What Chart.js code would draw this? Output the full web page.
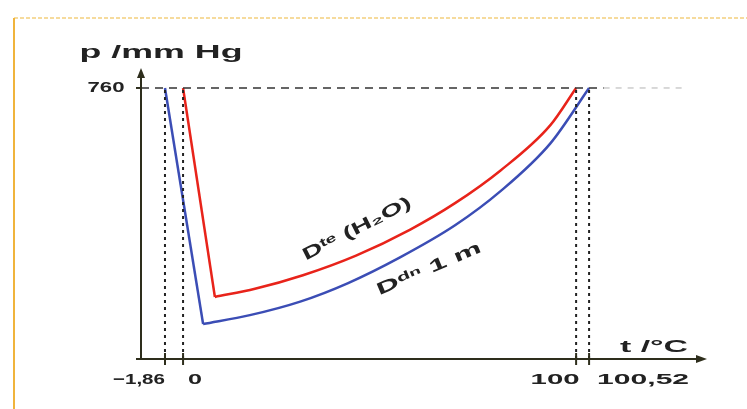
<!DOCTYPE html>
<html lang="en">
<head>
    <meta charset="UTF-8">
    <title>p - t diagram</title>
    <script src="https://cdn.jsdelivr.net/npm/chart.js"></script>
    <style>
        body {
            margin: 0;
            padding: 0;
            background: #fff;
        }
        #wrap {
            width: 747px;
            height: 409px;
        }
    </style>
</head>
<body>
    <div id="wrap"><canvas id="pt" width="747" height="409"></canvas></div>

    <script>
        // schematic temperature positions (axis is not to scale) and tick labels
        const xTickVals = [-4.6, 0, 100, 103.3];
        const xTickLabels = ['\u22121,86', '0', '100', '100,52'];
        const yTickVals = [760];
        const yTickLabels = ['760'];

        // pure water (red)
        const waterSolidT = [0, 8.1];
        const waterSolidP = [760, 174];
        const waterLiquidT = [8.1, 18.3, 30.5, 44, 57.8, 69.2, 80.7, 93.4, 100];
        const waterLiquidP = [174, 197, 235, 290, 363, 437, 528, 655, 760];

        // 1 m solution (blue)
        const solnSolidT = [-4.6, 5.1];
        const solnSolidP = [760, 98];
        const solnLiquidT = [5.1, 17, 29.8, 42, 55.2, 69.2, 80.7, 93.4, 103.3];
        const solnLiquidP = [98, 123, 161, 213, 285, 375, 470, 604, 760];

        const refLineT = [-10.7, 107];
        const refFaintT = [107, 128];

        function pts(xs, ys) {
            return xs.map((x, i) => ({ x: x, y: ys[i] }));
        }

        // draw text squeezed/stretched to a given width
        function fitText(ctx, text, cx, cy, w, size, angle) {
            ctx.save();
            ctx.font = 'bold ' + size + 'px "Liberation Sans", Arial, sans-serif';
            ctx.fillStyle = '#222';
            ctx.textAlign = 'center';
            ctx.textBaseline = 'middle';
            let m = ctx.measureText(text).width;
            ctx.translate(cx, cy);
            if (angle) ctx.rotate(angle * Math.PI / 180);
            ctx.scale(w / m, 1);
            ctx.fillText(text, 0, 0);
            ctx.restore();
        }

        const axesPlugin = {
            id: 'axesPlugin',
            beforeDraw(chart) {
                const ctx = chart.ctx;
                ctx.save();
                // scanned page frame
                ctx.strokeStyle = '#f3cf7e';
                ctx.lineWidth = 1.5;
                ctx.setLineDash([4, 2]);
                ctx.beginPath();
                ctx.moveTo(14, 18);
                ctx.lineTo(747, 18);
                ctx.stroke();
                ctx.setLineDash([]);
                ctx.strokeStyle = '#f0b43c';
                ctx.lineWidth = 2;
                ctx.beginPath();
                ctx.moveTo(14, 18);
                ctx.lineTo(14, 409);
                ctx.stroke();
                ctx.restore();
            },
            afterDraw(chart) {
                const ctx = chart.ctx;
                const a = chart.chartArea;
                const xs = chart.scales.x, ys = chart.scales.y;
                ctx.save();
                ctx.strokeStyle = '#2e2e1c';
                ctx.fillStyle = '#2e2e1c';
                ctx.lineWidth = 2;
                // y axis with arrow
                ctx.beginPath();
                ctx.moveTo(a.left, a.bottom);
                ctx.lineTo(a.left, a.top + 6);
                ctx.stroke();
                ctx.beginPath();
                ctx.moveTo(a.left, a.top);
                ctx.lineTo(a.left - 4, a.top + 10);
                ctx.lineTo(a.left + 4, a.top + 10);
                ctx.closePath();
                ctx.fill();
                // x axis with arrow
                ctx.beginPath();
                ctx.moveTo(a.left - 5, a.bottom);
                ctx.lineTo(a.right - 6, a.bottom);
                ctx.stroke();
                ctx.beginPath();
                ctx.moveTo(a.right, a.bottom);
                ctx.lineTo(a.right - 11, a.bottom - 4);
                ctx.lineTo(a.right - 11, a.bottom + 4);
                ctx.closePath();
                ctx.fill();
                // ticks
                xTickVals.forEach(v => {
                    const px = xs.getPixelForValue(v);
                    ctx.beginPath();
                    ctx.moveTo(px, a.bottom - 6);
                    ctx.lineTo(px, a.bottom + 6);
                    ctx.stroke();
                });
                yTickVals.forEach(v => {
                    const py = ys.getPixelForValue(v);
                    ctx.beginPath();
                    ctx.moveTo(a.left - 5, py);
                    ctx.lineTo(a.left, py);
                    ctx.stroke();
                });
                ctx.restore();

                // tick labels (offset like the printed figure)
                const lab = [[-26, 52], [12, 14], [-21, 49], [54, 92]];
                xTickVals.forEach((v, i) => {
                    const px = xs.getPixelForValue(v);
                    fitText(ctx, xTickLabels[i], px + lab[i][0], a.bottom + 21, lab[i][1], 15);
                });
                yTickVals.forEach((v, i) => {
                    fitText(ctx, yTickLabels[i], a.left - 35, ys.getPixelForValue(v), 37, 15);
                });
                // axis titles
                fitText(ctx, 'p /mm Hg', 161, 53, 163, 18);
                fitText(ctx, 't /\u00B0C', 654, a.bottom - 12, 68, 17);
                // curve labels
                fitText(ctx, 'D\u1D57\u1D49 (H\u2082O)', 357, 229, 120, 17, -27);
                fitText(ctx, 'D\u1D48\u207F 1 m', 429, 269, 112, 17, -23);
            }
        };

        const dotted = (v) => ({
            data: [{ x: v, y: 0 }, { x: v, y: 760 }],
            borderColor: '#222',
            borderWidth: 2,
            borderDash: [3, 4],
            tension: 0
        });

        const datasets = [
            {
                data: pts(refLineT, [760, 760]),
                borderColor: '#333',
                borderWidth: 1.5,
                borderDash: [8, 6],
                tension: 0
            },
            {
                data: pts(refFaintT, [760, 760]),
                borderColor: '#ccc',
                borderWidth: 1.5,
                borderDash: [6, 6],
                tension: 0
            },
            ...xTickVals.map(dotted),
            {
                data: pts(waterSolidT, waterSolidP),
                borderColor: '#e8231a',
                borderWidth: 2.5,
                tension: 0
            },
            {
                data: pts(waterLiquidT, waterLiquidP),
                borderColor: '#e8231a',
                borderWidth: 2.5,
                cubicInterpolationMode: 'monotone'
            },
            {
                data: pts(solnSolidT, solnSolidP),
                borderColor: '#3b4db5',
                borderWidth: 2.5,
                tension: 0
            },
            {
                data: pts(solnLiquidT, solnLiquidP),
                borderColor: '#3b4db5',
                borderWidth: 2.5,
                cubicInterpolationMode: 'monotone'
            }
        ];

        new Chart(document.getElementById('pt').getContext('2d'), {
            type: 'scatter',
            data: { datasets: datasets.map(d => Object.assign({ showLine: true, pointRadius: 0, fill: false }, d)) },
            options: {
                responsive: false,
                animation: false,
                devicePixelRatio: 1,
                layout: { padding: { left: 141, right: 40, top: 68, bottom: 50 } },
                plugins: {
                    legend: { display: false },
                    tooltip: { enabled: false }
                },
                scales: {
                    x: { type: 'linear', min: -10.7, max: 133.3, display: false },
                    y: { type: 'linear', min: 0, max: 816, display: false }
                }
            },
            plugins: [axesPlugin]
        });
    </script>
</body>
</html>
